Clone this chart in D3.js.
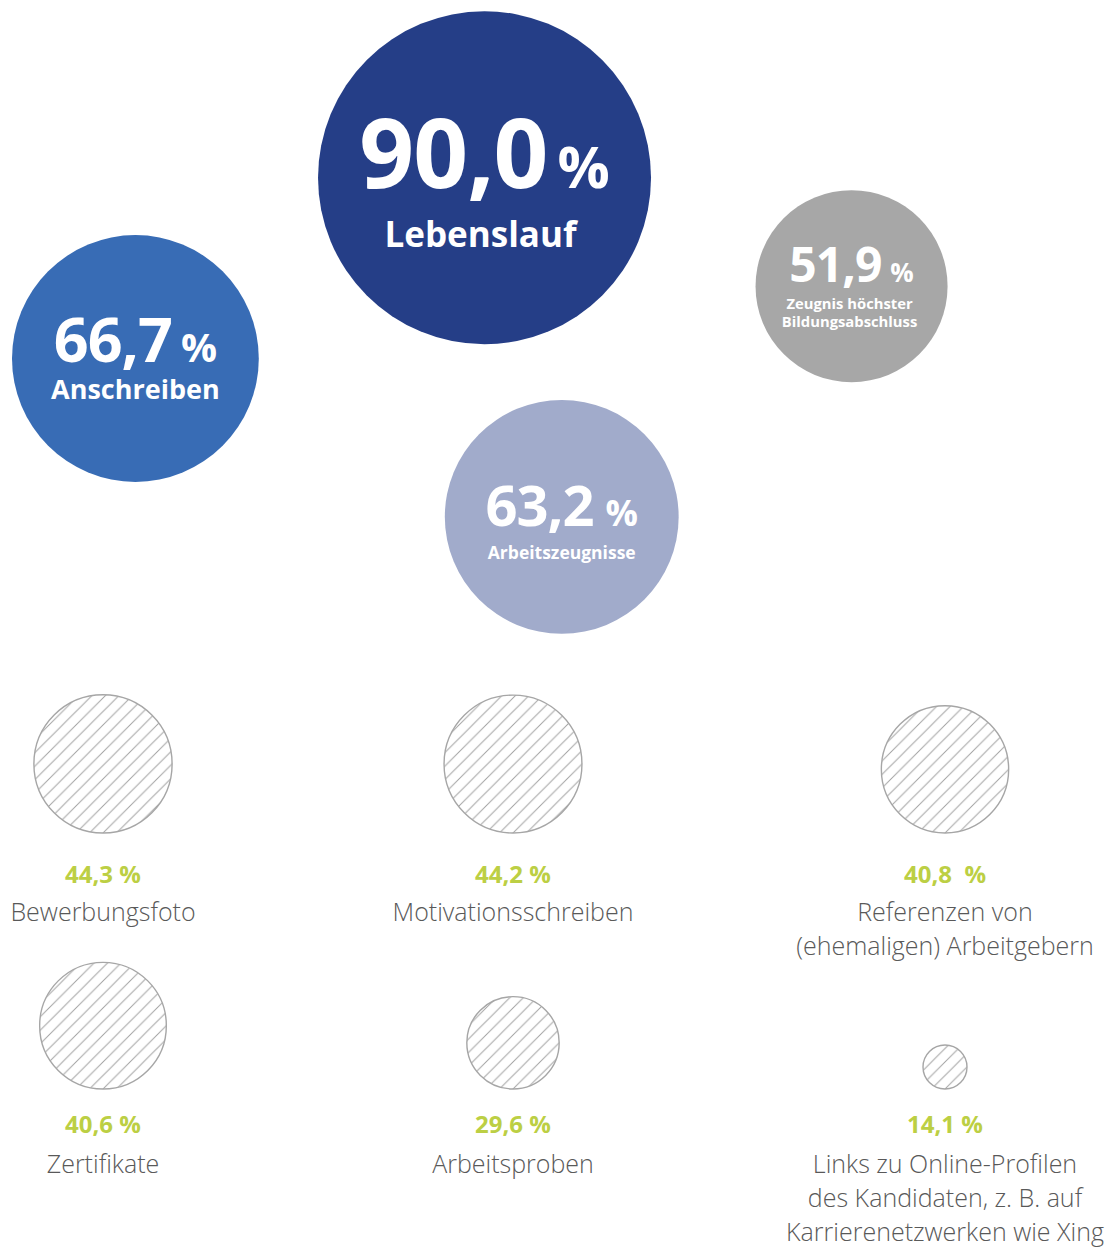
<!DOCTYPE html>
<html>
<head>
<meta charset="utf-8">
<script src="https://cdn.jsdelivr.net/npm/d3@7"></script>
<style>
  body { margin: 0; background: #fff; }
  svg { display: block; }
  text { font-family: "Open Sans", "Noto Sans", sans-serif; }
</style>
</head>
<body>
<script>
const width = 1119,
    height = 1247;

// top bubbles (filled)
const topNames = ["Lebenslauf", "Anschreiben", "Zeugnis höchster\nBildungsabschluss", "Arbeitszeugnisse"];
const topValues = [90.0, 66.7, 51.9, 63.2];
const topColors = ["#253e87", "#386cb5", "#a7a7a7", "#a1abcb"];

// bottom bubbles (hatched)
const bottomNames = [
    "Bewerbungsfoto",
    "Motivationsschreiben",
    "Referenzen von\n(ehemaligen) Arbeitgebern",
    "Zertifikate",
    "Arbeitsproben",
    "Links zu Online-Profilen\ndes Kandidaten, z. B. auf\nKarrierenetzwerken wie Xing"
];
const bottomValues = [44.3, 44.2, 40.8, 40.6, 29.6, 14.1];

// layout (percent of page) for the loose top cluster
const topPosX = [43.3, 12.1, 76.1, 50.2],
    topPosY = [14.25, 28.75, 22.95, 41.45];

// text styling per top bubble
const topStyle = [
    { num: 96, pct: 58, gap: 10, numDy: 10, lab: 35, labDy: 69, lineH: 0, labDx: -4 },
    { num: 61, pct: 40, gap: 9, numDy: 3, lab: 27, labDy: 40, lineH: 0, labDx: 0 },
    { num: 48, pct: 26, gap: 9, numDy: -4, lab: 14.8, labDy: 23, lineH: 18, labDx: -2 },
    { num: 56, pct: 36, gap: 12, numDy: 9, lab: 17.5, labDy: 42, lineH: 0, labDx: 0 }
];

const de = d3.formatLocale({ decimal: ",", thousands: ".", grouping: [3], currency: ["", " €"] }),
    fmt = de.format(".1f");

const x = d3.scaleLinear().domain([0, 100]).range([0, width]),
    y = d3.scaleLinear().domain([0, 100]).range([0, height]),
    rTop = d3.scaleLinear().domain([0, 100]).range([0, 185]),
    rBottom = d3.scaleLinear().domain([0, 100]).range([0, 156]),
    col = d3.scaleOrdinal().domain([0, 1, 2]).range([103, 513, 945]),
    rowBase = d3.scaleOrdinal().domain([0, 1]).range([833, 1089]),
    pctOffset = d3.scaleOrdinal().domain([0, 1]).range([50, 44]),
    labOffset = d3.scaleOrdinal().domain([0, 1]).range([38, 40]);

const svg = d3.select("body").append("svg")
    .attr("width", width)
    .attr("height", height);

// hatch pattern
const s = 13.5;
svg.append("defs").append("pattern")
    .attr("id", "hatch")
    .attr("patternUnits", "userSpaceOnUse")
    .attr("width", s)
    .attr("height", s)
    .append("path")
    .attr("d", `M0,${s} L${s},0 M${-s / 4},${s / 4} L${s / 4},${-s / 4} M${s * 3 / 4},${s * 5 / 4} L${s * 5 / 4},${s * 3 / 4}`)
    .attr("stroke", "#a2a2a2")
    .attr("stroke-width", 1);

// ---- top bubbles
const topData = topNames.map((name, i) => ({
    name, value: topValues[i], color: topColors[i], st: topStyle[i],
    cx: x(topPosX[i]), cy: y(topPosY[i])
}));

const topNode = svg.selectAll(".top")
    .data(topData)
    .enter().append("g")
    .attr("class", "top")
    .attr("transform", d => "translate(" + d.cx + "," + d.cy + ")");

topNode.append("circle")
    .attr("r", d => rTop(d.value))
    .style("fill", d => d.color);

const num = topNode.append("text")
    .attr("y", d => d.st.numDy)
    .attr("text-anchor", "middle")
    .style("fill", "#fff")
    .style("font-weight", 700);

num.append("tspan")
    .style("font-size", d => d.st.num + "px")
    .style("letter-spacing", "-1px")
    .text(d => fmt(d.value));

num.append("tspan")
    .attr("dx", d => d.st.gap)
    .style("font-size", d => d.st.pct + "px")
    .text("%");

topNode.each(function (d) {
    const lines = d.name.split("\n");
    d3.select(this).selectAll(".lab")
        .data(lines)
        .enter().append("text")
        .attr("class", "lab")
        .attr("x", d.st.labDx)
        .attr("y", (l, j) => d.st.labDy + j * d.st.lineH)
        .attr("text-anchor", "middle")
        .style("fill", "#fff")
        .style("font-weight", 700)
        .style("font-size", d.st.lab + "px")
        .text(l => l);
});

// ---- bottom bubbles
const bottomData = bottomNames.map((name, i) => ({
    name, value: bottomValues[i], c: i % 3, r: Math.floor(i / 3)
}));

const bNode = svg.selectAll(".bottom")
    .data(bottomData)
    .enter().append("g")
    .attr("class", "bottom")
    .attr("transform", d => "translate(" + col(d.c) + "," + rowBase(d.r) + ")");

bNode.append("circle")
    .attr("cy", d => -rBottom(d.value))
    .attr("r", d => rBottom(d.value))
    .style("fill", "url(#hatch)")
    .style("stroke", "#a6a6a6")
    .style("stroke-width", 1.4);

bNode.append("text")
    .attr("y", d => pctOffset(d.r))
    .attr("text-anchor", "middle")
    .style("fill", "#bccf44")
    .style("font-weight", 700)
    .style("font-size", "24px")
    .style("white-space", "pre")
    .text(d => fmt(d.value) + (d.name.startsWith("Referenzen") ? "  %" : " %"));

bNode.each(function (d) {
    const lines = d.name.split("\n");
    d3.select(this).selectAll(".lab")
        .data(lines)
        .enter().append("text")
        .attr("class", "lab")
        .attr("y", (l, j) => pctOffset(d.r) + labOffset(d.r) + j * 34)
        .attr("text-anchor", "middle")
        .style("fill", "#595959")
        .style("font-weight", 300)
        .style("font-size", "25px")
        .text(l => l);
});
</script>
</body>
</html>
